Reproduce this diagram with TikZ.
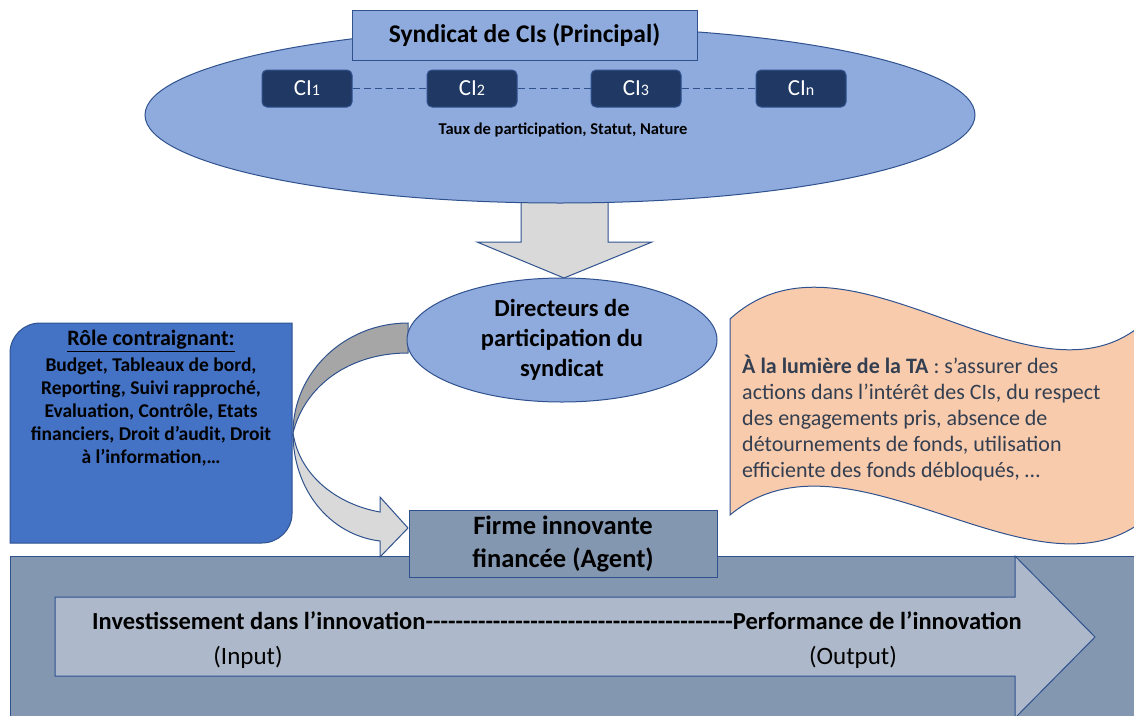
\documentclass[tikz,border=0pt]{standalone}
\usepackage{fontspec}
\setmainfont{Carlito}
\usetikzlibrary{shapes.geometric}
\definecolor{bordblue}{HTML}{2F528F}
\definecolor{lightblue}{HTML}{8FAADC}
\definecolor{navy}{HTML}{203864}
\definecolor{midblue}{HTML}{4472C4}
\definecolor{slate}{HTML}{8497B0}
\definecolor{paleslate}{HTML}{ADB9CA}
\definecolor{lgray}{HTML}{D9D9D9}
\definecolor{dgray}{HTML}{A6A6A6}
\definecolor{peach}{HTML}{F8CBAD}
\definecolor{wavetext}{HTML}{333F50}
\tikzset{
  outl/.style={draw=bordblue, line width=1pt},
  cibox/.style={outl, fill=navy, rounded corners=5pt, minimum width=90pt, minimum height=37pt,
    text=white, inner sep=0pt, font=\fontsize{23}{26}\selectfont},
  dashlink/.style={draw=bordblue, line width=1pt, dash pattern=on 7pt off 4pt},
  boldtxt/.style={font=\bfseries\fontsize{#1}{#1}\selectfont, inner sep=0pt},
}
\newcommand{\sm}[1]{{\fontsize{16}{16}\selectfont #1}}
\newcommand{\hy}{-{}}
\newcommand{\hyten}{\hy\hy\hy\hy\hy\hy\hy\hy\hy\hy}
\begin{document}
\begin{tikzpicture}[x=1pt,y=-1pt]
\useasboundingbox (0,0) rectangle (1134,715);
\clip (0,0) rectangle (1134,715);

% bottom band and big arrow
\path[outl, fill=slate] (10,556) rectangle (1150,730);
\path[outl, fill=paleslate] (55,597) -- (1015,597) -- (1015,556) -- (1095,637) -- (1015,718) -- (1015,676) -- (55,676) -- cycle;
\node[boldtxt=24.5, anchor=west] (inv) at (92,621) {Investissement dans l’innovation\hyten\hyten\hyten\hyten\hy Performance de l’innovation};
\node[font=\fontsize{25}{25}\selectfont, inner sep=0pt] (inp) at (248,657) {(Input)};
\node[font=\fontsize{25}{25}\selectfont, inner sep=0pt] (outp) at (853,657) {(Output)};

% curved arrow
\path[outl, fill=dgray] (408,323) .. controls (345,323) and (293,372) .. (293,433)
   .. controls (305,385) and (350,353) .. (408,353) -- cycle;
\path[outl, fill=lgray] (293,433) .. controls (293,490) and (330,535) .. (380,541)
   -- (380,557) -- (408,528) -- (380,497) -- (380,512)
   .. controls (340,505) and (300,478) .. (293,433) -- cycle;

% left box
\path[outl, fill=midblue] (10,543) -- (10,353) .. controls (10,336.4) and (23.4,323) .. (40,323)
   -- (292,323) -- (292,514) .. controls (292,530) and (278,543) .. (262,543) -- cycle;
\node[boldtxt=22] (roletitle) at (151,341) {\underline{Rôle contraignant:}};
\node[font=\bfseries\fontsize{19.5}{23.2}\selectfont, align=center, inner sep=0pt] (roletext) at (151,412)
 {Budget, Tableaux de bord,\\Reporting, Suivi rapproché,\\Evaluation, Contrôle, Etats\\financiers, Droit d’audit, Droit\\à l’information,…};

% Firme box
\node[outl, fill=slate, minimum width=308pt, minimum height=67pt, align=center, inner sep=0pt,
  font=\bfseries\fontsize{26.5}{33}\selectfont] (firme) at (563,543.5) {Firme innovante\\financée (Agent)};

% down arrow
\path[outl, fill=lgray] (521,195) -- (521,242) -- (477,242) -- (564,278) -- (652,242) -- (608,242) -- (608,195) -- cycle;

% directors ellipse
\node[ellipse, outl, fill=lightblue, minimum width=310pt, minimum height=124pt, inner sep=0pt, align=center,
  font=\bfseries\fontsize{24.5}{30}\selectfont] (dir) at (562,340) {Directeurs de\\participation du\\syndicat};

% big ellipse
\node[ellipse, outl, fill=lightblue, minimum width=830pt, minimum height=176pt, inner sep=0pt] (synd) at (560,115) {};
\node[outl, fill=lightblue, minimum width=345pt, minimum height=50pt, inner sep=0pt,
  font=\bfseries\fontsize{25.5}{25.5}\selectfont] (title) at (524.5,35) {Syndicat de CIs (Principal)};

\node[cibox] (ci1) at (307,88.5) {CI\sm{1}};
\node[cibox] (ci2) at (472,88.5) {CI\sm{2}};
\node[cibox] (ci3) at (636,88.5) {CI\sm{3}};
\node[cibox] (cin) at (801,88.5) {CI\sm{n}};
\draw[dashlink] (ci1) -- (ci2);
\draw[dashlink] (ci2) -- (ci3);
\draw[dashlink] (ci3) -- (cin);
\node[boldtxt=16.5] (taux) at (563,130) {Taux de participation, Statut, Nature};

% wave
\path[outl, fill=peach] (730,319) .. controls (850,209) and (1040,429) .. (1150,317)
  -- (1150,515) .. controls (1040,615) and (850,415) .. (730,515) -- cycle;
\node[anchor=west, align=left, inner sep=0pt, text=wavetext, font=\fontsize{22}{26}\selectfont] (wtext) at (742,418)
 {\textbf{À la lumière de la TA} : s’assurer des\\actions dans l’intérêt des CIs, du respect\\des engagements pris, absence de\\détournements de fonds, utilisation\\efficiente des fonds débloqués, …};
\end{tikzpicture}
\end{document}
